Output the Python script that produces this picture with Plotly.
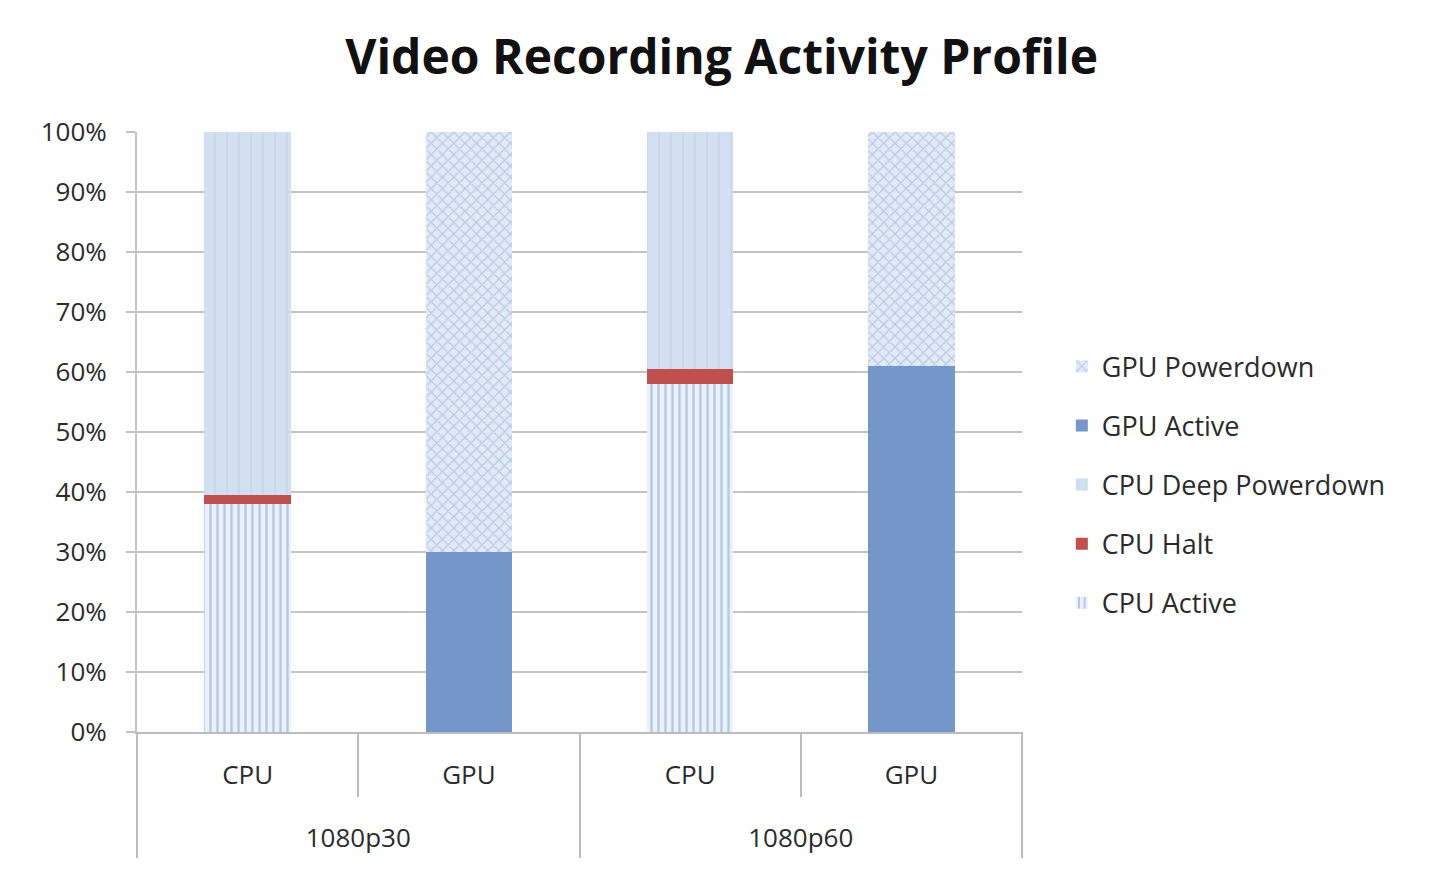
import plotly.graph_objects as go

resolutions = ["1080p30", "1080p30", "1080p60", "1080p60"]
units = ["CPU", "GPU", "CPU", "GPU"]

cpu_active = [38, None, 58, None]
cpu_halt = [1.5, None, 2.5, None]
cpu_deep_powerdown = [60.5, None, 39.5, None]
gpu_active = [None, 30, None, 61]
gpu_powerdown = [None, 70, None, 39]

# unique category keys (shown with the unit name only)
cats = [f"{r} {u}" for r, u in zip(resolutions, units)]

# group label positions / boundaries derived from the category order
groups = list(dict.fromkeys(resolutions))
group_centers = [sum(i for i, r in enumerate(resolutions) if r == g) /
                 resolutions.count(g) for g in groups]
group_size = resolutions.count(groups[0])

fig = go.Figure()
fig.add_trace(go.Bar(name="CPU Active", x=cats, y=cpu_active, legendgroup="a", legendrank=5,
                     marker=dict(color="#e6eef8", line=dict(width=0),
                                 pattern=dict(shape="|", fgcolor="#809fd0", bgcolor="#eaf1fa",
                                              size=7, solidity=0.35))))
fig.add_trace(go.Bar(name="CPU Halt", x=cats, y=cpu_halt, legendgroup="b", legendrank=4,
                     marker=dict(color="#bf504d", line=dict(width=0))))
fig.add_trace(go.Bar(name="CPU Deep Powerdown", x=cats, y=cpu_deep_powerdown, legendgroup="c",
                     legendrank=3,
                     marker=dict(color="#ccdaee", line=dict(width=0),
                                 pattern=dict(shape="|", fgcolor="#c0d1e9", bgcolor="#d2dff0",
                                              size=12, solidity=0.15))))
fig.add_trace(go.Bar(name="GPU Active", x=cats, y=gpu_active, legendgroup="d", legendrank=2,
                     marker=dict(color="#7596c9", line=dict(width=0))))
fig.add_trace(go.Bar(name="GPU Powerdown", x=cats, y=gpu_powerdown, legendgroup="e", legendrank=1,
                     marker=dict(color="#dbe5f3", line=dict(width=0),
                                 pattern=dict(shape="x", fgcolor="#8eaad6", bgcolor="#e2eaf6",
                                              size=8, solidity=0.3))))

font_family = "Open Sans, Liberation Sans, sans-serif"
grey = "#bcbcbc"
text_color = "#2b2b2b"

fig.update_layout(
    barmode="stack",
    bargap=0.61,
    width=1452, height=886,
    paper_bgcolor="white", plot_bgcolor="white",
    margin=dict(l=137, r=430, t=132, b=28),
    title=dict(text="<b>Video Recording Activity Profile</b>", x=0.497, xanchor="center",
               y=0.935, yanchor="middle",
               font=dict(family=font_family, size=48, color="#111111")),
    font=dict(family=font_family, color=text_color),
    legend=dict(x=1.045, xanchor="left", y=0.514, yanchor="middle",
                traceorder="grouped", font=dict(size=27, color=text_color),
                tracegroupgap=21, itemwidth=30, itemsizing="constant"),
    showlegend=True,
    yaxis=dict(domain=[126 / 726, 1], range=[0, 100],
               tickvals=list(range(0, 101, 10)),
               ticktext=[f"{v}%" for v in range(0, 101, 10)],
               showgrid=True, gridcolor="#c4c4c4", gridwidth=2,
               ticks="outside", ticklen=9, tickcolor="#c4c4c4", tickwidth=2,
               showline=True, linecolor="#c4c4c4", linewidth=2, zeroline=False,
               ticklabelstandoff=14,
               tickfont=dict(size=26, color=text_color)),
    xaxis=dict(type="category", categoryorder="array", categoryarray=cats,
               tickvals=cats, ticktext=units,
               showline=True, linecolor=grey, linewidth=2,
               tickson="boundaries", ticks="outside", ticklen=63,
               tickcolor=grey, tickwidth=2,
               ticklabelstandoff=19,
               tickfont=dict(size=26, color=text_color)),
    xaxis2=dict(overlaying="x", anchor="free", position=0, side="top",
                range=[-0.5, len(cats) - 0.5], showgrid=False, zeroline=False,
                showline=False,
                tickvals=group_centers, ticktext=groups, ticks="",
                ticklabelstandoff=6,
                minor=dict(ticks="outside", tick0=-0.5, dtick=group_size,
                           ticklen=126, tickcolor=grey, tickwidth=2, showgrid=False),
                tickfont=dict(size=26, color=text_color)),
)
# invisible helper so the group-label axis is drawn
fig.add_trace(go.Scatter(x=group_centers, y=[None] * len(groups), xaxis="x2",
                         showlegend=False, hoverinfo="skip"))

fig.write_html("out.html")
